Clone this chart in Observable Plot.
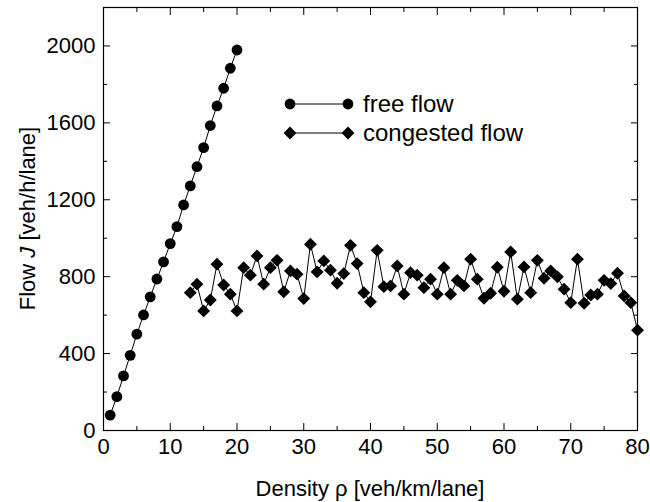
<!DOCTYPE html>
<html><head><meta charset="utf-8">
<script src="https://cdn.jsdelivr.net/npm/d3@7"></script>
<script src="https://cdn.jsdelivr.net/npm/@observablehq/plot@0.6"></script>
<style>
body{margin:0;background:#fff;}
#chart{position:relative;width:650px;height:502px;}
</style></head><body><div id="chart"></div>
<script>
// ---- data ----
const freeDensity = [1,2,3,4,5,6,7,8,9,10,11,12,13,14,15,16,17,18,19,20];
const freeFlow = [80,176,284,391,501,601,695,788,877,972,1060,1173,1272,1372,1471,1586,1688,1780,1884,1979];
const congDensity = [13,14,15,16,17,18,19,20,21,22,23,24,25,26,27,28,29,30,31,32,33,34,35,36,37,38,39,40,41,42,43,44,45,46,47,48,49,50,51,52,53,54,55,56,57,58,59,60,61,62,63,64,65,66,67,68,69,70,71,72,73,74,75,76,77,78,79,80];
const congFlow = [717,761,622,679,865,757,709,622,847,808,908,761,847,885,721,830,813,686,969,825,882,834,766,816,963,868,717,669,937,748,752,856,709,821,808,743,787,709,847,709,781,752,891,787,688,714,849,724,929,683,851,717,885,792,830,799,735,665,891,662,705,709,781,764,818,700,665,522];
const xTicks = [0,10,20,30,40,50,60,70,80];
const xMinorTicks = [5,15,25,35,45,55,65,75];
const yTicks = [0,400,800,1200,1600,2000];
const yMinorTicks = [200,600,1000,1400,1800,2200];
const seriesNames = ["free flow","congested flow"];
const xTitle = "Density ρ [veh/km/lane]";
const yTitleParts = ["Flow ", "J", " [veh/h/lane]"];

const free = freeDensity.map((d,i)=>({x:d, y:freeFlow[i]}));
const cong = congDensity.map((d,i)=>({x:d, y:congFlow[i]}));

const FONT = "'Liberation Sans', Arial, Helvetica, sans-serif";
const FS = 22;
const mL=103, mR=13, mT=7, mB=72, W=650, H=502;
const blank = () => "";
const tickOpts = (size) => ({tickSize:size, tickFormat:blank, label:null, stroke:"#000"});
const RC = 5.4, RD = 5.8;

const svg = Plot.plot({
  width: W, height: H,
  marginLeft: mL, marginRight: mR, marginTop: mT, marginBottom: mB,
  style: {fontFamily: FONT, fontSize: FS+"px", color:"#000", background:"#fff", overflow:"visible"},
  x: {domain:[0,80]},
  y: {domain:[0,2200]},
  marks: [
    Plot.axisX(xTicks, {anchor:"bottom", ...tickOpts(-7)}),
    Plot.axisX(xMinorTicks, {anchor:"bottom", ...tickOpts(-4)}),
    Plot.axisX(xTicks, {anchor:"top", ...tickOpts(-7)}),
    Plot.axisX(xMinorTicks, {anchor:"top", ...tickOpts(-4)}),
    Plot.axisY(yTicks, {anchor:"left", ...tickOpts(-7)}),
    Plot.axisY(yMinorTicks, {anchor:"left", ...tickOpts(-4)}),
    Plot.axisY(yTicks, {anchor:"right", ...tickOpts(-7)}),
    Plot.axisY(yMinorTicks, {anchor:"right", ...tickOpts(-4)}),
    Plot.axisX(xTicks, {anchor:"bottom", tickSize:0, tickPadding:8, label:null, tickFormat:d3.format("d"), fontSize:FS, fill:"#000"}),
    Plot.axisY(yTicks, {anchor:"left", tickSize:0, tickPadding:8, label:null, tickFormat:d3.format("d"), fontSize:FS, fill:"#000"}),
    Plot.frame({stroke:"#000", strokeWidth:1.2}),
    Plot.line(free, {x:"x", y:"y", stroke:"#000", strokeWidth:1}),
    Plot.dot(free, {x:"x", y:"y", r:RC, fill:"#000", stroke:"none"}),
    Plot.line(cong, {x:"x", y:"y", stroke:"#000", strokeWidth:1}),
    Plot.dot(cong, {x:"x", y:"y", r:RD, symbol:"diamond2", fill:"#000", stroke:"none"})
  ]
});
document.getElementById("chart").appendChild(svg);

const s = d3.select(svg);
// axis titles
s.append("text").attr("x", (mL + W - mR)/2).attr("y", 496)
  .attr("text-anchor","middle").attr("font-family",FONT).attr("font-size",FS).attr("fill","#000")
  .text(xTitle);
const yt = s.append("text").attr("transform", `translate(35,${(mT + H - mB)/2}) rotate(-90)`)
  .attr("text-anchor","middle").attr("font-family",FONT).attr("font-size",FS).attr("fill","#000");
yt.append("tspan").text(yTitleParts[0]);
yt.append("tspan").attr("font-style","italic").text(yTitleParts[1]);
yt.append("tspan").text(yTitleParts[2]);

// legend
const lg = s.append("g");
const rows = [{y:104, sym:d3.symbolCircle, r:RC}, {y:133, sym:d3.symbolDiamond2, r:RD}];
rows.forEach((r,i)=>{
  lg.append("line").attr("x1",290).attr("x2",348).attr("y1",r.y).attr("y2",r.y).attr("stroke","#000");
  [290,348].forEach(cx=>{
    lg.append("path").attr("d", d3.symbol(r.sym, Math.PI*r.r*r.r)()).attr("transform",`translate(${cx},${r.y})`).attr("fill","#000");
  });
  lg.append("text").attr("x",363).attr("y",r.y).attr("dy","0.35em").attr("text-anchor","start")
    .attr("font-family",FONT).attr("font-size",24).attr("fill","#000").text(seriesNames[i]);
});
</script></body></html>
